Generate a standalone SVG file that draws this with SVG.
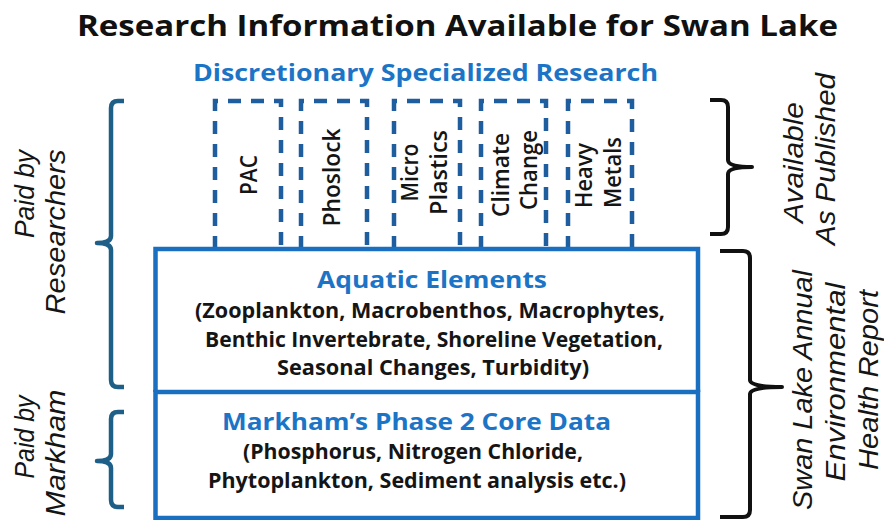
<svg xmlns="http://www.w3.org/2000/svg" width="884" height="520" viewBox="0 0 884 520">
  <style>
    .bold { font-family: "Open Sans", "Liberation Sans", sans-serif; font-weight: 700; }
    .title { font-size: 29px; fill: #111111; }
    .blue { fill: #1c74c6; }
    .head { font-size: 24px; }
    .body { font-size: 21px; fill: #151515; }
    .label { font-family: "Open Sans", "Liberation Sans", sans-serif; font-weight: 600; font-size: 23px; fill: #151515; text-anchor: middle; }
    .side { font-family: "Liberation Sans", Arial, sans-serif; font-style: italic; font-size: 28px; fill: #151515; text-anchor: middle; }
    .dash { fill: none; stroke: #1f5e9e; stroke-width: 4.5; stroke-dasharray: 13 10; }
    .frame { fill: none; stroke: #1b6fc0; stroke-width: 4.5; }
    .brace-l { fill: none; stroke: #1d5f86; stroke-width: 4.5; stroke-linejoin: round; }
    .brace-r { fill: none; stroke: #111111; stroke-width: 4; stroke-linejoin: round; }
  </style>

  <rect width="884" height="520" fill="#ffffff"/>

  <!-- headings -->
  <text class="bold title" x="77" y="36" textLength="761" lengthAdjust="spacingAndGlyphs">Research Information Available for Swan Lake</text>
  <text class="bold blue head" x="193" y="81" textLength="465" lengthAdjust="spacingAndGlyphs">Discretionary Specialized Research</text>

  <!-- specialized research studies (dashed) -->
  <g id="pac">
    <path class="dash" d="M215,249 V101 H281 V249"/>
    <text class="label" transform="translate(257,175) rotate(-90)" textLength="40" lengthAdjust="spacingAndGlyphs">PAC</text>
  </g>
  <g id="phoslock">
    <path class="dash" d="M301,249 V101 H367 V249"/>
    <text class="label" transform="translate(340,177.5) rotate(-90)" textLength="98" lengthAdjust="spacingAndGlyphs">Phoslock</text>
  </g>
  <g id="micro-plastics">
    <path class="dash" d="M394,249 V101 H460 V249"/>
    <text class="label" transform="translate(418,172.5) rotate(-90)" textLength="58" lengthAdjust="spacingAndGlyphs">Micro</text>
    <text class="label" transform="translate(447,172.5) rotate(-90)" textLength="85" lengthAdjust="spacingAndGlyphs">Plastics</text>
  </g>
  <g id="climate-change">
    <path class="dash" d="M481,249 V101 H546 V249"/>
    <text class="label" transform="translate(509,175) rotate(-90)" textLength="84" lengthAdjust="spacingAndGlyphs">Climate</text>
    <text class="label" transform="translate(537,170) rotate(-90)" textLength="80" lengthAdjust="spacingAndGlyphs">Change</text>
  </g>
  <g id="heavy-metals">
    <path class="dash" d="M568,249 V101 H632 V249"/>
    <text class="label" transform="translate(592,175.5) rotate(-90)" textLength="65" lengthAdjust="spacingAndGlyphs">Heavy</text>
    <text class="label" transform="translate(621,172.5) rotate(-90)" textLength="71" lengthAdjust="spacingAndGlyphs">Metals</text>
  </g>

  <!-- core monitoring frame -->
  <g id="aquatic-elements">
    <path class="frame" d="M155.5,392 V249 H698 V392"/>
    <text class="bold blue head" x="317" y="288" textLength="230" lengthAdjust="spacingAndGlyphs">Aquatic Elements</text>
    <text class="bold body" x="195" y="318" textLength="470" lengthAdjust="spacingAndGlyphs">(Zooplankton, Macrobenthos, Macrophytes,</text>
    <text class="bold body" x="205" y="347" textLength="458" lengthAdjust="spacingAndGlyphs">Benthic Invertebrate, Shoreline Vegetation,</text>
    <text class="bold body" x="277" y="375" textLength="312" lengthAdjust="spacingAndGlyphs">Seasonal Changes, Turbidity)</text>
  </g>
  <g id="core-data">
    <path class="frame" d="M155.5,392 H698 V518 H155.5 Z"/>
    <text class="bold blue head" x="222" y="430" textLength="389" lengthAdjust="spacingAndGlyphs">Markham’s Phase 2 Core Data</text>
    <text class="bold body" x="243" y="459" textLength="340" lengthAdjust="spacingAndGlyphs">(Phosphorus, Nitrogen Chloride,</text>
    <text class="bold body" x="208" y="488" textLength="418" lengthAdjust="spacingAndGlyphs">Phytoplankton, Sediment analysis etc.)</text>
  </g>

  <!-- braces -->
  <g id="connectors">
    <path class="brace-l" d="M124,101 H118 Q111,101 111,108 V236 Q111,243 97,243 Q111,243 111,250 V380 Q111,387 118,387 H124"/>
    <path class="brace-l" d="M124,412 H118 Q111,412 111,419 V454 Q111,461 97,461 Q111,461 111,468 V500 Q111,507 118,507 H124"/>
    <path class="brace-r" d="M710,100 H721 Q728,100 728,107 V160 Q728,167 752,167 Q728,167 728,174 V227 Q728,234 721,234 H710"/>
    <path class="brace-r" d="M720,251 H743 Q750,251 750,258 V380 Q750,387 782,387 Q750,387 750,394 V510 Q750,517 743,517 H720"/>
  </g>

  <!-- side annotations -->
  <g id="paid-by-researchers">
    <text class="side" transform="translate(34,194) rotate(-90)" textLength="88" lengthAdjust="spacingAndGlyphs">Paid by</text>
    <text class="side" transform="translate(65,232) rotate(-90)" textLength="165" lengthAdjust="spacingAndGlyphs">Researchers</text>
  </g>
  <g id="paid-by-markham">
    <text class="side" transform="translate(34,437) rotate(-90)" textLength="83" lengthAdjust="spacingAndGlyphs">Paid by</text>
    <text class="side" transform="translate(65,453) rotate(-90)" textLength="127" lengthAdjust="spacingAndGlyphs">Markham</text>
  </g>
  <g id="available-as-published">
    <text class="side" transform="translate(803,162.5) rotate(-90)" textLength="121" lengthAdjust="spacingAndGlyphs">Available</text>
    <text class="side" transform="translate(835,159) rotate(-90)" textLength="172" lengthAdjust="spacingAndGlyphs">As Published</text>
  </g>
  <g id="annual-report">
    <text class="side" transform="translate(812,390) rotate(-90)" textLength="240" lengthAdjust="spacingAndGlyphs">Swan Lake Annual</text>
    <text class="side" transform="translate(845,382) rotate(-90)" textLength="199" lengthAdjust="spacingAndGlyphs">Environmental</text>
    <text class="side" transform="translate(878,380) rotate(-90)" textLength="180" lengthAdjust="spacingAndGlyphs">Health Report</text>
  </g>
</svg>
